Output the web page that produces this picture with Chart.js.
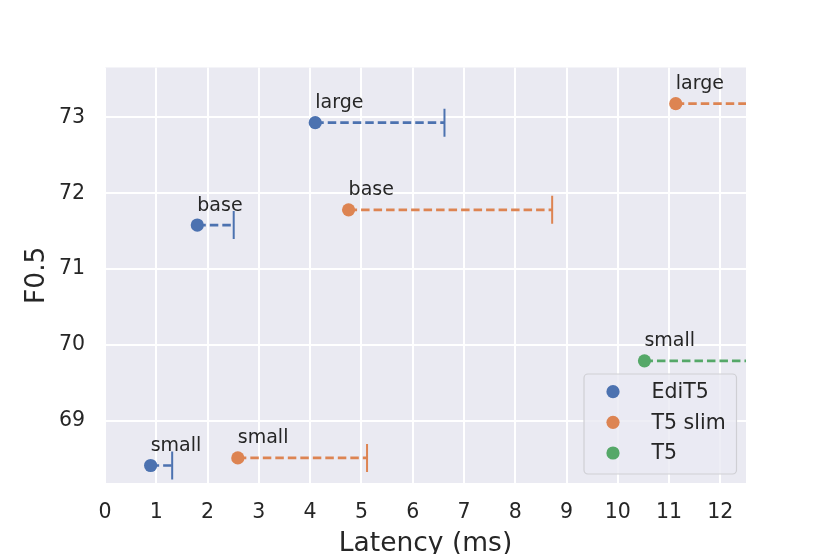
<!DOCTYPE html>
<html>
<head>
<meta charset="utf-8">
<script src="https://cdn.jsdelivr.net/npm/chart.js@4"></script>
<style>
  html, body { margin: 0; padding: 0; background: #ffffff; }
  #wrap { width: 830px; height: 554px; }
</style>
</head>
<body>
<div id="wrap"><canvas id="chart" width="830" height="554"></canvas></div>
<script>
// values
const models = ['EdiT5', 'T5 slim', 'T5'];
const colors = ['#4C72B0', '#DD8452', '#55A868'];

const edit5Sizes = ['small', 'base', 'large'];
const edit5Latency = [0.89, 1.80, 4.10];
const edit5F05 = [68.41, 71.58, 72.93];
const edit5LatencyEnd = [1.31, 2.51, 6.62];

const slimSizes = ['small', 'base', 'large'];
const slimLatency = [2.59, 4.75, 11.13];
const slimF05 = [68.51, 71.78, 73.18];
const slimLatencyEnd = [5.11, 8.72, 15.5]; // large runs off the axis

const t5Sizes = ['small'];
const t5Latency = [10.52];
const t5F05 = [69.79];
const t5LatencyEnd = [16.0]; // runs off the axis

const xTicks = [0, 1, 2, 3, 4, 5, 6, 7, 8, 9, 10, 11, 12];
const yTicks = [69, 70, 71, 72, 73];

const FONT = "'DejaVu Sans', sans-serif";
const TEXT = '#262626';

// one scatter dataset per model + one dashed line per error bar
function buildSeries(name, color, sizes, lat, f05, latEnd) {
  const sets = [{
    type: 'scatter',
    label: name,
    sizes: sizes,
    data: lat.map((x, i) => ({ x: x, y: f05[i] })),
    backgroundColor: color,
    borderColor: color,
    pointRadius: 6.6,
    pointHoverRadius: 6.6,
    borderWidth: 0,
    order: 0
  }];
  lat.forEach((x, i) => {
    sets.push({
      type: 'line',
      label: name + ' err',
      data: [{ x: x, y: f05[i] }, { x: latEnd[i], y: f05[i] }],
      borderColor: color,
      borderWidth: 2.7,
      borderDash: [8.5, 4],
      pointStyle: 'line',
      rotation: 90,
      pointRadius: [0, 14],
      pointHoverRadius: [0, 14],
      pointBorderWidth: 2,
      pointBorderColor: color,
      fill: false,
      tension: 0,
      order: 1
    });
  });
  return sets;
}

const datasets = [].concat(
  buildSeries(models[0], colors[0], edit5Sizes, edit5Latency, edit5F05, edit5LatencyEnd),
  buildSeries(models[1], colors[1], slimSizes, slimLatency, slimF05, slimLatencyEnd),
  buildSeries(models[2], colors[2], t5Sizes, t5Latency, t5F05, t5LatencyEnd)
);

const plotBg = {
  id: 'plotBg',
  beforeDraw(chart) {
    const a = chart.chartArea, ctx = chart.ctx;
    ctx.save();
    ctx.fillStyle = '#EAEAF2';
    ctx.fillRect(a.left, a.top, a.right - a.left, a.bottom - a.top);
    ctx.restore();
  }
};

// size labels above each marker
const sizeLabels = {
  id: 'sizeLabels',
  afterDatasetsDraw(chart) {
    const ctx = chart.ctx;
    ctx.save();
    ctx.font = '19px ' + FONT;
    ctx.fillStyle = TEXT;
    ctx.textAlign = 'left';
    ctx.textBaseline = 'alphabetic';
    chart.data.datasets.forEach((ds, di) => {
      if (!ds.sizes) return;
      chart.getDatasetMeta(di).data.forEach((pt, i) => {
        ctx.fillText(ds.sizes[i], pt.x, pt.y - 14.5);
      });
    });
    ctx.restore();
  }
};

// legend box inside the plot, lower right
const innerLegend = {
  id: 'innerLegend',
  afterDraw(chart) {
    const ctx = chart.ctx;
    const x0 = 584, y0 = 374, w = 152.5, h = 100, r = 4;
    ctx.save();
    ctx.beginPath();
    ctx.roundRect(x0, y0, w, h, r);
    ctx.fillStyle = 'rgba(234,234,242,0.8)';
    ctx.fill();
    ctx.lineWidth = 1.2;
    ctx.strokeStyle = '#cfcfd4';
    ctx.stroke();
    ctx.font = '20.5px ' + FONT;
    ctx.textAlign = 'left';
    ctx.textBaseline = 'middle';
    models.forEach((m, i) => {
      const cy = 391.7 + i * 30.65;
      ctx.beginPath();
      ctx.arc(613, cy, 6.6, 0, Math.PI * 2);
      ctx.fillStyle = colors[i];
      ctx.fill();
      ctx.fillStyle = TEXT;
      ctx.fillText(m, 651.5, cy + 1);
    });
    ctx.restore();
  }
};

new Chart(document.getElementById('chart'), {
  data: { datasets: datasets },
  plugins: [plotBg, sizeLabels, innerLegend],
  options: {
    responsive: false,
    animation: false,
    events: [],
    layout: { padding: { top: 67.5, right: 84, left: 0, bottom: 0 } },
    plugins: { legend: { display: false }, tooltip: { enabled: false } },
    scales: {
      x: {
        type: 'linear',
        min: 0,
        max: 12.5,
        afterFit(s) { s.height = 71; },
        afterBuildTicks(s) { s.ticks = xTicks.map(v => ({ value: v })); },
        border: { display: false },
        grid: { color: '#ffffff', lineWidth: 2, drawTicks: false },
        ticks: { color: TEXT, font: { family: FONT, size: 20.5 }, padding: 17, maxRotation: 0, autoSkip: false },
        title: {
          display: true, text: 'Latency (ms)', color: TEXT,
          font: { family: FONT, size: 26.5, lineHeight: 0.77 },
          padding: { top: 0, bottom: 0 }
        }
      },
      y: {
        type: 'linear',
        min: 68.179,
        max: 73.657,
        afterFit(s) { s.width = 105; },
        afterBuildTicks(s) { s.ticks = yTicks.map(v => ({ value: v })); },
        border: { display: false },
        grid: { color: '#ffffff', lineWidth: 2, drawTicks: false },
        ticks: { color: TEXT, font: { family: FONT, size: 20.5 }, padding: 20, autoSkip: false },
        title: {
          display: true, text: 'F0.5', color: TEXT,
          font: { family: FONT, size: 26.5, lineHeight: 1 },
          padding: { top: 24, bottom: 0 }
        }
      }
    }
  }
});
</script>
</body>
</html>
